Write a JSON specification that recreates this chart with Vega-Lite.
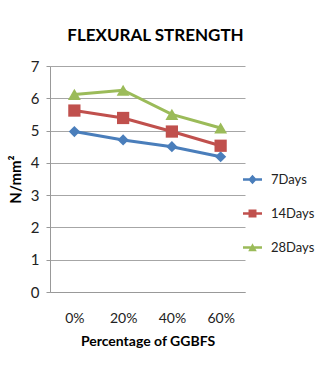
{
  "$schema": "https://vega.github.io/schema/vega-lite/v6.json",
  "autosize": {"type": "none"},
  "width": 195,
  "height": 226,
  "padding": {"left": 50, "top": 66, "right": 72, "bottom": 75},
  "background": "white",
  "title": {
    "text": "FLEXURAL STRENGTH",
    "font": "Lato",
    "fontSize": 17,
    "fontWeight": "bold",
    "color": "#000000",
    "anchor": "middle",
    "dx": 8,
    "offset": 14
  },
  "config": {
    "view": {"stroke": null},
    "font": "Lato"
  },
  "data": {
    "values": [
      {"pct": "0%", "series": "7Days", "value": 4.97},
      {"pct": "20%", "series": "7Days", "value": 4.71},
      {"pct": "40%", "series": "7Days", "value": 4.5},
      {"pct": "60%", "series": "7Days", "value": 4.19},
      {"pct": "0%", "series": "14Days", "value": 5.62},
      {"pct": "20%", "series": "14Days", "value": 5.39},
      {"pct": "40%", "series": "14Days", "value": 4.97},
      {"pct": "60%", "series": "14Days", "value": 4.53},
      {"pct": "0%", "series": "28Days", "value": 6.12},
      {"pct": "20%", "series": "28Days", "value": 6.25},
      {"pct": "40%", "series": "28Days", "value": 5.5},
      {"pct": "60%", "series": "28Days", "value": 5.08}
    ]
  },
  "encoding": {
    "x": {
      "field": "pct",
      "type": "ordinal",
      "sort": ["0%", "20%", "40%", "60%"],
      "scale": {"paddingInner": 0, "paddingOuter": 0, "align": 0.5},
      "axis": {
        "title": "Percentage of GGBFS",
        "labelAngle": 0,
        "labelFontSize": 14,
        "labelColor": "#222222",
        "labelPadding": 19,
        "ticks": false,
        "domainColor": "#999999",
        "titleFontSize": 14,
        "titleFontWeight": "bold",
        "titleColor": "#000000",
        "titlePadding": 9
      }
    },
    "y": {
      "field": "value",
      "type": "quantitative",
      "scale": {"domain": [0, 7], "nice": false},
      "axis": {
        "title": "N/mm²",
        "values": [0, 1, 2, 3, 4, 5, 6, 7],
        "labelFontSize": 15,
        "labelColor": "#222222",
        "labelPadding": 7,
        "tickSize": 4,
        "tickColor": "#999999",
        "domainColor": "#999999",
        "gridColor": "#a6a6a6",
        "titleFontSize": 15,
        "titleFontWeight": "bold",
        "titleColor": "#000000",
        "titlePadding": 7
      }
    },
    "color": {
      "field": "series",
      "type": "nominal",
      "sort": ["7Days", "14Days", "28Days"],
      "scale": {"domain": ["7Days", "14Days", "28Days"], "range": ["#4a7ebb", "#c0504d", "#9bbb59"]},
      "legend": {
        "title": null,
        "orient": "none",
        "legendX": 193,
        "legendY": 104,
        "padding": 0,
        "rowPadding": 17,
        "symbolSize": 361,
        "labelFontSize": 13,
        "labelColor": "#222222",
        "labelOffset": 9,
        "encode": {
          "symbols": {
            "update": {
              "shape": {"signal": "datum.value == '7Days' ? 'M-1,-0.12H1V0.12H-1Z M0,-0.5L0.45,0L0,0.5L-0.45,0Z' : datum.value == '14Days' ? 'M-1,-0.12H1V0.12H-1Z M-0.42,-0.42H0.42V0.42H-0.42Z' : 'M-1,-0.12H1V0.12H-1Z M0,-0.45L0.45,0.4H-0.45Z'"},
              "fill": {"scale": "color", "field": "value"},
              "stroke": {"value": "transparent"},
              "strokeWidth": {"value": 0},
              "opacity": {"value": 1},
              "fillOpacity": {"value": 1}
            }
          }
        }
      }
    }
  },
  "layer": [
    {
      "mark": {"type": "line", "strokeWidth": 3}
    },
    {
      "transform": [{"filter": "datum.series == '7Days'"}],
      "mark": {"type": "point", "filled": true, "opacity": 1, "size": 125, "shape": "diamond"}
    },
    {
      "transform": [{"filter": "datum.series == '14Days'"}],
      "mark": {"type": "point", "filled": true, "opacity": 1, "size": 150, "shape": "square"}
    },
    {
      "transform": [{"filter": "datum.series == '28Days'"}],
      "mark": {"type": "point", "filled": true, "opacity": 1, "size": 165, "shape": "triangle-up"}
    }
  ]
}
